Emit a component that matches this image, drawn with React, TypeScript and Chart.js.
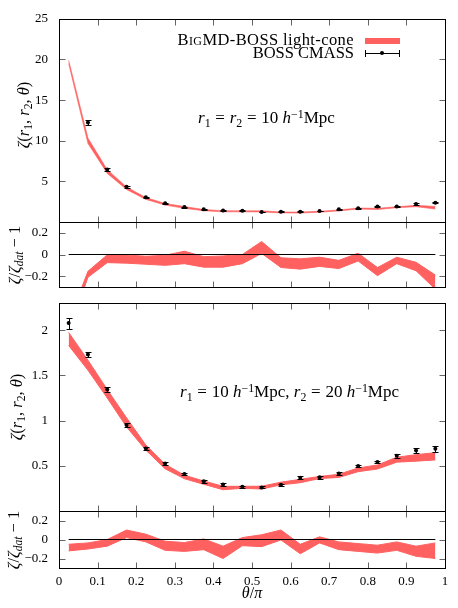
import React, { useEffect, useRef } from 'react';
import { Chart, registerables } from 'chart.js';
Chart.register(...registerables);

// ---------- data ----------
const thetaBins = [0.025, 0.075, 0.125, 0.175, 0.225, 0.275, 0.325, 0.375, 0.425, 0.475,
  0.525, 0.575, 0.625, 0.675, 0.725, 0.775, 0.825, 0.875, 0.925, 0.975];
const xTicks = [0, 0.1, 0.2, 0.3, 0.4, 0.5, 0.6, 0.7, 0.8, 0.9, 1];
const xTickLabels = ['0', '0.1', '0.2', '0.3', '0.4', '0.5', '0.6', '0.7', '0.8', '0.9', '1'];
const zeroLineX = [0.025, 0.975];

// panel 1: r1 = r2 = 10 h^-1 Mpc
const topData = [null, 12.24, 6.46, 4.34, 3.05, 2.31, 1.84, 1.56, 1.41, 1.37,
  1.23, 1.27, 1.27, 1.35, 1.56, 1.70, 1.90, 1.92, 2.21, 2.36];
const topErr = [null, 0.25, 0.15, 0.1, 0.08, 0.07, 0.06, 0.05, 0.05, 0.05,
  0.05, 0.05, 0.05, 0.05, 0.05, 0.05, 0.06, 0.06, 0.07, 0.08];
const topModelLo = [19.5, 9.67, 5.98, 3.99, 2.78, 2.08, 1.68, 1.38, 1.25, 1.25,
  1.24, 1.12, 1.10, 1.20, 1.36, 1.60, 1.53, 1.76, 1.88, 1.60];
const topModelHi = [19.9, 10.34, 6.44, 4.32, 3.00, 2.29, 1.90, 1.53, 1.39, 1.37,
  1.38, 1.23, 1.22, 1.32, 1.48, 1.72, 1.68, 1.88, 2.05, 1.91];
const topResLo = [-0.72, -0.21, -0.075, -0.08, -0.09, -0.10, -0.085, -0.117, -0.117, -0.085,
  0.01, -0.12, -0.135, -0.11, -0.13, -0.06, -0.195, -0.085, -0.15, -0.32];
const topResHi = [-0.62, -0.155, -0.003, -0.004, -0.016, -0.007, 0.03, -0.02, -0.013, 0.0,
  0.12, -0.03, -0.04, -0.025, -0.054, 0.012, -0.12, -0.025, -0.072, -0.19];

// panel 2: r1 = 10, r2 = 20 h^-1 Mpc
const botData = [2.078, 1.73, 1.343, 0.95, 0.69, 0.526, 0.408, 0.33, 0.294, 0.268,
  0.261, 0.29, 0.368, 0.372, 0.416, 0.497, 0.541, 0.61, 0.67, 0.688];
const botErr = [0.06, 0.025, 0.03, 0.025, 0.02, 0.02, 0.015, 0.015, 0.015, 0.012,
  0.012, 0.012, 0.018, 0.015, 0.015, 0.015, 0.015, 0.022, 0.03, 0.035];
const botModelLo = [1.83, 1.557, 1.249, 0.93, 0.673, 0.466, 0.357, 0.295, 0.235, 0.251,
  0.243, 0.289, 0.313, 0.359, 0.371, 0.435, 0.464, 0.540, 0.551, 0.565];
const botModelHi = [1.975, 1.668, 1.343, 1.03, 0.729, 0.517, 0.395, 0.332, 0.273, 0.273,
  0.274, 0.319, 0.350, 0.382, 0.406, 0.476, 0.509, 0.595, 0.623, 0.645];
const botResLo = [-0.12, -0.10, -0.07, 0.02, -0.025, -0.114, -0.125, -0.107, -0.2, -0.065,
  -0.075, -0.005, -0.15, -0.036, -0.107, -0.125, -0.143, -0.114, -0.177, -0.2];
const botResHi = [-0.05, -0.036, 0.0, 0.10, 0.056, -0.018, -0.032, 0.006, -0.07, 0.02,
  0.05, 0.10, -0.05, 0.028, -0.025, -0.043, -0.06, -0.025, -0.07, -0.036];

// axis ticks
const topYTicks = [0, 5, 10, 15, 20, 25];
const topYLabels = ['', '5', '10', '15', '20', '25'];
const resYTicks = [-0.2, 0, 0.2];
const resYLabels = ['\u22120.2', '0', '0.2'];
const botYTicks = [0, 0.5, 1, 1.5, 2];
const botYLabels = ['', '0.5', '1', '1.5', '2'];

const RED = '#ff6161';
const FONT = '"Liberation Serif", "Times New Roman", serif';
const W = 458;
const H = 608;
const PLOT_LEFT = 59;
const PLOT_RIGHT = 445;

const series = (ys: (number | null)[], errs?: (number | null)[]) =>
  thetaBins
    .map((x, i) => ({ x, y: ys[i], e: errs ? errs[i] : 0 }))
    .filter((p) => p.y !== null && p.y !== undefined);

const panelPlugin = {
  id: 'panelFrame',
  afterDatasetsDraw(chart: any) {
    const { ctx, scales } = chart;
    ctx.save();
    ctx.strokeStyle = '#000';
    ctx.lineWidth = 1;
    chart.data.datasets.forEach((ds: any) => {
      if (!ds.errorBars) return;
      ds.data.forEach((p: any) => {
        const px = Math.round(scales.x.getPixelForValue(p.x)) + 0.5;
        const y1 = Math.round(scales.y.getPixelForValue(p.y - p.e)) + 0.5;
        const y2 = Math.round(scales.y.getPixelForValue(p.y + p.e)) + 0.5;
        ctx.beginPath();
        ctx.moveTo(px, y1);
        ctx.lineTo(px, y2);
        ctx.moveTo(px - 3, y1);
        ctx.lineTo(px + 3, y1);
        ctx.moveTo(px - 3, y2);
        ctx.lineTo(px + 3, y2);
        ctx.stroke();
      });
    });
    ctx.restore();
  },
  afterDraw(chart: any) {
    const { ctx, chartArea: a, scales } = chart;
    const L = Math.round(a.left) + 0.5;
    const R = Math.round(a.right) + 0.5;
    const T = Math.round(a.top) + 0.5;
    const B = Math.round(a.bottom) + 0.5;
    const len = 6;
    ctx.save();
    ctx.lineWidth = 1;
    ctx.strokeStyle = '#666';
    ctx.beginPath();
    xTicks.forEach((v) => {
      const px = Math.round(scales.x.getPixelForValue(v)) + 0.5;
      if (px <= L + 1 || px >= R - 1) return;
      ctx.moveTo(px, T);
      ctx.lineTo(px, T + len);
      ctx.moveTo(px, B);
      ctx.lineTo(px, B - len);
    });
    scales.y.ticks.forEach((t: any) => {
      const py = Math.round(scales.y.getPixelForValue(t.value)) + 0.5;
      if (py <= T + 1 || py >= B - 1) return;
      ctx.moveTo(L, py);
      ctx.lineTo(L + len, py);
      ctx.moveTo(R, py);
      ctx.lineTo(R - len, py);
    });
    ctx.stroke();
    ctx.strokeStyle = '#000';
    ctx.strokeRect(L, T, R - L, B - T);
    ctx.restore();
  },
};

type PanelSpec = {
  top: number;
  bottom: number;
  yMin: number;
  yMax: number;
  yTicks: number[];
  yLabels: string[];
  lo: number[];
  hi: number[];
  pts?: { x: number; y: number; e: number }[];
  zero?: boolean;
  showX?: boolean;
  edge?: number;
};

function makeConfig(p: PanelSpec): any {
  const bw = p.edge ?? 1;
  const datasets: any[] = [
    {
      type: 'line',
      data: series(p.lo),
      borderColor: RED,
      backgroundColor: RED,
      borderWidth: bw,
      pointRadius: 0,
      fill: false,
      tension: 0,
      order: 2,
      clip: 0,
    },
    {
      type: 'line',
      data: series(p.hi),
      borderColor: RED,
      backgroundColor: RED,
      borderWidth: bw,
      pointRadius: 0,
      fill: '-1',
      tension: 0,
      order: 2,
      clip: 0,
    },
  ];
  if (p.zero) {
    datasets.push({
      type: 'line',
      data: zeroLineX.map((x) => ({ x, y: 0 })),
      borderColor: '#000',
      borderWidth: 1,
      pointRadius: 0,
      fill: false,
      order: 0,
      clip: 0,
    });
  }
  if (p.pts) {
    datasets.push({
      type: 'scatter',
      data: p.pts,
      errorBars: true,
      pointRadius: 2,
      pointBackgroundColor: '#000',
      pointBorderColor: '#000',
      pointBorderWidth: 0,
      showLine: false,
      order: 0,
      clip: 0,
    });
  }
  const tickFont = { family: FONT, size: 13 };
  return {
    type: 'line',
    data: { datasets },
    plugins: [panelPlugin],
    options: {
      responsive: false,
      maintainAspectRatio: false,
      animation: false,
      devicePixelRatio: 1,
      layout: {
        padding: { left: 0, right: W - PLOT_RIGHT, top: p.top, bottom: p.showX ? 0 : H - p.bottom },
      },
      plugins: { legend: { display: false }, tooltip: { enabled: false } },
      scales: {
        x: {
          type: 'linear',
          min: 0,
          max: 1,
          display: !!p.showX,
          grid: { display: false, drawTicks: false, tickLength: 0 },
          border: { display: false },
          afterBuildTicks: (s: any) => {
            s.ticks = xTicks.map((v) => ({ value: v }));
          },
          afterFit: (s: any) => {
            s.height = p.showX ? H - p.bottom : 0;
          },
          ticks: {
            font: tickFont,
            color: '#000',
            padding: 6,
            maxRotation: 0,
            autoSkip: false,
            callback: (_v: any, i: number) => xTickLabels[i],
          },
        },
        y: {
          type: 'linear',
          min: p.yMin,
          max: p.yMax,
          grid: { display: false, drawTicks: false, tickLength: 0 },
          border: { display: false },
          afterBuildTicks: (s: any) => {
            s.ticks = p.yTicks.map((v) => ({ value: v }));
          },
          afterFit: (s: any) => {
            s.width = PLOT_LEFT;
          },
          ticks: {
            font: tickFont,
            color: '#000',
            padding: 11,
            autoSkip: false,
            callback: (_v: any, i: number) => p.yLabels[i],
          },
        },
      },
    },
  };
}

const panels: PanelSpec[] = [
  {
    top: 9, bottom: 222, yMin: 0, yMax: 25, yTicks: topYTicks, yLabels: topYLabels,
    lo: topModelLo, hi: topModelHi, pts: series(topData, topErr), edge: 0.6,
  },
  {
    top: 222, bottom: 287, yMin: -0.3, yMax: 0.3, yTicks: resYTicks, yLabels: resYLabels,
    lo: topResLo, hi: topResHi, zero: true,
  },
  {
    top: 303, bottom: 511, yMin: 0, yMax: 2.3, yTicks: botYTicks, yLabels: botYLabels,
    lo: botModelLo, hi: botModelHi, pts: series(botData, botErr),
  },
  {
    top: 511, bottom: 568, yMin: -0.3, yMax: 0.3, yTicks: resYTicks, yLabels: resYLabels,
    lo: botResLo, hi: botResHi, zero: true, showX: true,
  },
];

const Sub = ({ children }: any) => (
  <span style={{ fontSize: '0.7em', position: 'relative', top: '0.3em' }}>{children}</span>
);
const Sup = ({ children }: any) => (
  <span style={{ fontSize: '0.7em', position: 'relative', top: '-0.45em' }}>{children}</span>
);
const I = ({ children }: any) => <span style={{ fontStyle: 'italic' }}>{children}</span>;

const Rot = ({ cx, cy, children }: any) => (
  <div
    style={{
      position: 'absolute',
      left: cx,
      top: cy,
      transform: 'translate(-50%, -50%) rotate(-90deg)',
      whiteSpace: 'nowrap',
      lineHeight: 1,
      fontSize: 16.5,
    }}
  >
    {children}
  </div>
);

const ZetaLabel = () => (
  <>
    <I>ζ</I>(<I>r</I><Sub>1</Sub>, <I>r</I><Sub>2</Sub>, <I>θ</I>)
  </>
);
const RatioLabel = () => (
  <>
    <I>ζ</I>/<I>ζ</I><Sub><I>dat</I></Sub> − 1
  </>
);

const Eq = () => <span style={{ margin: '0 0.28em' }}>=</span>;

export default function App() {
  const refs = [useRef<HTMLCanvasElement>(null), useRef<HTMLCanvasElement>(null),
    useRef<HTMLCanvasElement>(null), useRef<HTMLCanvasElement>(null)];
  useEffect(() => {
    const charts = panels.map((p, i) => new Chart(refs[i].current as HTMLCanvasElement, makeConfig(p)));
    return () => charts.forEach((c) => c.destroy());
  }, []);

  return (
    <div
      style={{
        position: 'absolute',
        left: 0,
        top: 0,
        width: W,
        height: H,
        background: '#fff',
        fontFamily: FONT,
        color: '#000',
        overflow: 'hidden',
      }}
    >
      {refs.map((r, i) => (
        <canvas
          key={i}
          ref={r}
          width={W}
          height={H}
          style={{ position: 'absolute', left: 0, top: 0, width: W, height: H }}
        />
      ))}

      <Rot cx={24} cy={115}><ZetaLabel /></Rot>
      <Rot cx={15} cy={255}><RatioLabel /></Rot>
      <Rot cx={17} cy={407}><ZetaLabel /></Rot>
      <Rot cx={14} cy={540}><RatioLabel /></Rot>

      {/* legend */}
      <div style={{ position: 'absolute', right: W - 354, top: 32, fontSize: 16.5, lineHeight: '16px', whiteSpace: 'nowrap', textAlign: 'right', letterSpacing: '0.4px' }}>
        <span style={{ fontVariant: 'small-caps' }}>BigMD</span>-BOSS light-cone
      </div>
      <div style={{ position: 'absolute', left: 365, top: 38, width: 35, height: 6, background: RED }} />
      <div style={{ position: 'absolute', right: W - 354, top: 45, fontSize: 16.5, lineHeight: '16px', whiteSpace: 'nowrap', textAlign: 'right' }}>
        BOSS CMASS
      </div>
      <div style={{ position: 'absolute', left: 365, top: 53, width: 35, height: 1, background: '#000' }} />
      <div style={{ position: 'absolute', left: 365, top: 50, width: 1, height: 7, background: '#000' }} />
      <div style={{ position: 'absolute', left: 399, top: 50, width: 1, height: 7, background: '#000' }} />
      <div style={{ position: 'absolute', left: 380, top: 51, width: 4, height: 4, borderRadius: 2, background: '#000' }} />

      {/* annotations */}
      <div style={{ position: 'absolute', left: 198, top: 110, fontSize: 17, lineHeight: '16px', whiteSpace: 'nowrap' }}>
        <I>r</I><Sub>1</Sub><Eq /><I>r</I><Sub>2</Sub><Eq />10 <I>h</I><Sup>−1</Sup>Mpc
      </div>
      <div style={{ position: 'absolute', left: 180, top: 384, fontSize: 17, lineHeight: '16px', whiteSpace: 'nowrap' }}>
        <I>r</I><Sub>1</Sub><Eq />10 <I>h</I><Sup>−1</Sup>Mpc, <I>r</I><Sub>2</Sub><Eq />20 <I>h</I><Sup>−1</Sup>Mpc
      </div>

      {/* x title */}
      <div style={{ position: 'absolute', left: 252, top: 593, transform: 'translate(-50%, -50%)', fontSize: 16, lineHeight: 1, whiteSpace: 'nowrap' }}>
        <I>θ</I>/<I>π</I>
      </div>
    </div>
  );
}
